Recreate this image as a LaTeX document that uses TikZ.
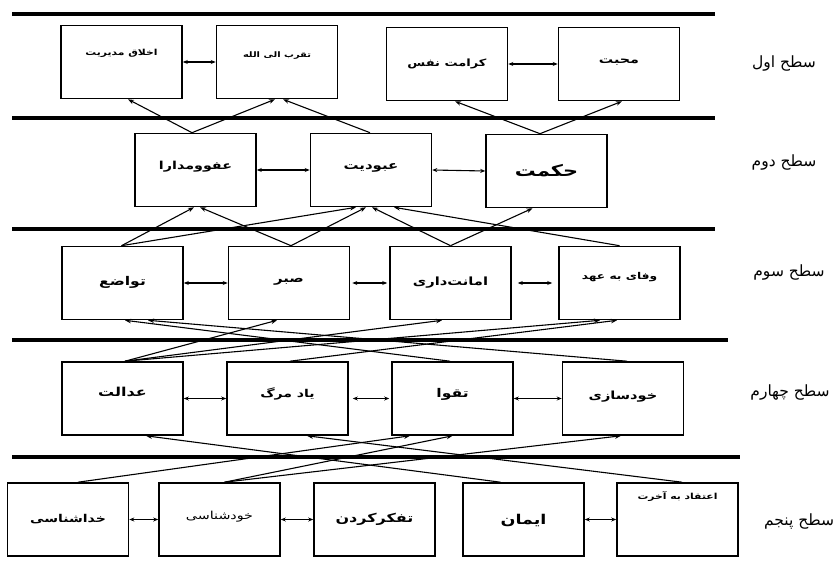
\documentclass[tikz,border=0pt]{standalone}
\usepackage{fontspec}
\newfontfamily\arabicfont[Script=Arabic]{DejaVu Sans}
\newfontfamily\arabicwide[Script=Arabic, FakeStretch=1.3]{DejaVu Sans}
\TeXXeTstate=1
\usetikzlibrary{arrows.meta}
\newcommand{\fw}[1]{\arabicwide\bfseries\fontsize{#1}{#1}\selectfont}
\begin{document}
\begin{tikzpicture}[x=1pt,y=-1pt,
  box/.style={draw, line width=1.6pt, minimum width=121pt, minimum height=73pt, inner sep=0pt,
    text height=8pt, text depth=3pt},
  up/.style={text depth=#1},
  down/.style={text height=#1},
  rulel/.style={line width=3.6pt},
  conn/.style={line width=1.1pt, -{Stealth[length=6pt,width=4.5pt]}},
  bi/.style={line width=1.1pt, {Stealth[length=5pt,width=4pt]}-{Stealth[length=5pt,width=4pt]}},
  lab/.style={font=\arabicfont\fontsize{15.5}{17}\selectfont, inner sep=0pt}]
\useasboundingbox (0,0) rectangle (837,569);
\fill[white] (0,0) rectangle (837,569);
% level rules
\draw[rulel] (12,14) -- (715,14);
\draw[rulel] (12,118) -- (715,118);
\draw[rulel] (12,229) -- (715,229);
\draw[rulel] (12,340) -- (728,340);
\draw[rulel] (12,457) -- (740,457);
% level 1
\node[box, up=20pt] (A) at (121.5,62) {\fw{8.3}\beginR اخلاق مدیریت\endR};
\node[box, up=17pt] (B) at (277,62) {\fw{7.6}\beginR تقرب الی الله\endR};
\node[box, up=2pt] (C) at (447,64) {\fw{10}\beginR کرامت نفس\endR};
\node[box, up=9pt] (D) at (619,64) {\fw{11}\beginR محبت\endR};
% level 2
\node[box, up=9pt] (E) at (195.5,170) {\fw{11}\beginR عفوومدارا\endR};
\node[box, up=9pt] (F) at (371,170) {\fw{11.5}\beginR عبودیت\endR};
\node[box, down=14pt] (G) at (546.5,171) {\fw{16}\beginR حکمت\endR};
% level 3
\node[box, up=4pt] (H) at (122.5,283) {\fw{12}\beginR تواضع\endR};
\node[box, up=9pt] (I) at (289,283) {\fw{11.5}\beginR صبر\endR};
\node[box, up=3pt] (J) at (450.5,283) {\fw{11.3}\beginR امانت‌داری\endR};
\node[box, up=15pt] (K) at (619.5,283) {\fw{9.4}\beginR وفای به عهد\endR};
% level 4
\node[box, up=13pt] (L) at (122.5,398.5) {\fw{12.3}\beginR عدالت\endR};
\node[box, up=10pt] (M) at (287.5,398.5) {\fw{10.8}\beginR یاد مرگ\endR};
\node[box, up=10pt] (N) at (452.5,398.5) {\fw{12}\beginR تقوا\endR};
\node[box, up=6pt] (O) at (623,398.5) {\fw{11.2}\beginR خودسازی\endR};
% level 5
\node[box, up=3pt] (P) at (68,519.5) {\fw{10.8}\beginR خداشناسی\endR};
\node[box, up=8pt] (Q) at (219.5,519.5) {\arabicwide\fontsize{11}{11}\selectfont\beginR خودشناسی\endR};
\node[box, up=3pt] (R) at (374.5,519.5) {\fw{12.3}\beginR تفکرکردن\endR};
\node[box, down=12pt] (S) at (523.5,519.5) {\fw{13.5}\beginR ایمان\endR};
\node[box, up=48pt] (T) at (677.5,519.5) {\fw{8.3}\beginR اعتقاد به آخرت\endR};
% level labels
\node[lab] (l1) at (784,64) {\beginR سطح اول\endR};
\node[lab] (l2) at (784,163) {\beginR سطح دوم\endR};
\node[lab] (l3) at (789,273) {\beginR سطح سوم\endR};
\node[lab] (l4) at (790,393) {\beginR سطح چهارم\endR};
\node[lab] (l5) at (799,521) {\beginR سطح پنجم\endR};
% horizontal links
\draw[bi] (A.east) -- (B.west);
\draw[bi] (C.east) -- (D.west);
\draw[bi] (E.east) -- (F.west);
\draw[bi] (F.east) -- (G.west);
\draw[bi] (H.east) -- (I.west);
\draw[bi, shorten <=2pt, shorten >=2pt] (I.east) -- (J.west);
\draw[bi, shorten <=6pt, shorten >=6pt] (J.east) -- (K.west);
\draw[bi] (L.east) -- (M.west);
\draw[bi, shorten <=4pt, shorten >=2pt] (M.east) -- (N.west);
\draw[bi] (N.east) -- (O.west);
\draw[bi] (P.east) -- (Q.west);
\draw[bi] (Q.east) -- (R.west);
\draw[bi] (S.east) -- (T.west);
% level 2 -> 1
\draw[conn] ([xshift=-3.5pt]E.north) -- ([xshift=6.5pt]A.south);
\draw[conn] ([xshift=-3.5pt]E.north) -- ([xshift=-2pt]B.south);
\draw[conn] ([xshift=-1pt]F.north) -- ([xshift=6pt]B.south);
\draw[conn] ([xshift=-6.5pt]G.north) -- ([xshift=8pt]C.south);
\draw[conn] ([xshift=-6.5pt]G.north) -- ([xshift=3pt]D.south);
% level 3 -> 2
\draw[conn] ([xshift=-1pt]H.north) -- ([xshift=-1.5pt]E.south);
\draw[conn] ([xshift=-1pt]H.north) -- ([xshift=-15pt]F.south);
\draw[conn] ([xshift=2pt]I.north) -- ([xshift=4.5pt]E.south);
\draw[conn] ([xshift=2pt]I.north) -- ([xshift=-5pt]F.south);
\draw[conn] (J.north) -- ([xshift=1pt]F.south);
\draw[conn] (J.north) -- ([xshift=-14pt]G.south);
\draw[conn] (K.north) -- ([xshift=23pt]F.south);
% level 4 -> 3
\draw[conn] ([xshift=2.5pt]L.north) -- ([xshift=-12pt]I.south);
\draw[conn] ([xshift=2.5pt]L.north) -- ([xshift=-8.5pt]J.south);
\draw[conn] ([xshift=2.5pt]L.north) -- ([xshift=-19.5pt]K.south);
\draw[conn] ([xshift=2.5pt]M.north) -- ([xshift=-2.5pt]K.south);
\draw[conn] ([xshift=-2.5pt]N.north) -- ([xshift=2.5pt]H.south);
\draw[conn] ([xshift=4pt]O.north) -- ([xshift=25.5pt]H.south);
% level 5 -> 4
\draw[conn] ([xshift=10pt]P.north) -- ([xshift=-42.5pt]N.south);
\draw[conn] ([xshift=5pt]Q.north) -- (N.south);
\draw[conn] ([xshift=5pt]Q.north) -- ([xshift=-2pt]O.south);
\draw[conn] ([xshift=-23pt]S.north) -- ([xshift=23.5pt]L.south);
\draw[conn] ([xshift=4.5pt]T.north) -- ([xshift=19.5pt]M.south);
\end{tikzpicture}
\end{document}
